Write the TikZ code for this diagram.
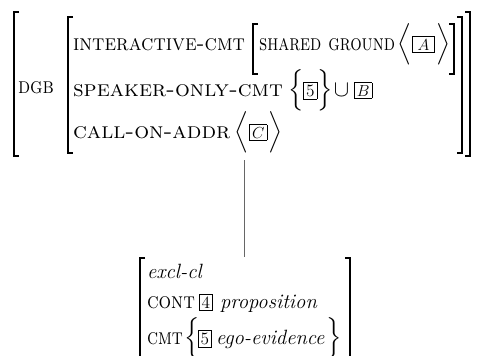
\documentclass[tikz,border=0pt]{standalone}
\usepackage{amsmath}
\usepackage{graphicx}
\newcommand\tg[1]{{\fontsize{13}{15}\selectfont\fboxsep=1.6pt\fboxrule=0.4pt\fbox{#1}}}
% small-caps label set to a given width (height kept)
\newcommand\sck[2]{\resizebox{#1}{\height}{\fontsize{17}{20}\selectfont\textsc{#2}}}
\tikzset{
  txt/.style={inner sep=0pt, outer sep=0pt, anchor=base west, font=\fontsize{16}{19}\selectfont},
  itx/.style={txt, font=\fontsize{15.5}{18}\selectfont\itshape},
  brk/.style={line width=0.8pt},
  conn/.style={line width=0.4pt, draw=black!60}
}
\begin{document}
\begin{tikzpicture}[x=0.75pt,y=-0.75pt]
\useasboundingbox (0,0) rectangle (477,355);
\clip (0,0) rectangle (477,355);
% top AVM text
\node[txt] (dgb) at (18,93) {\sck{27pt}{dgb}};
\node[txt] (ic) at (73,50) {\sck{129pt}{interactive-cmt}};
\node[txt] (sg) at (259,50) {\sck{102pt}{shared ground}};
\node[txt] (sga) at (397,50) {${\Big\langle}\mkern1mu\tg{$\,A\,$}\mkern1mu{\Big\rangle}$};
\node[txt] (soc) at (73,96) {\sck{157.5pt}{speaker-only-cmt}};
\node[txt] (socv) at (288,96) {$\Big\{\tg{5}\Big\}\!\cup\tg{$B$}$};
\node[txt] (coa) at (73,138) {\sck{118pt}{call-on-addr}};
\node[txt] (coav) at (234,138) {${\Big\langle}\mkern1mu\tg{$C$}\mkern1mu{\Big\rangle}$};
% top brackets
\draw[brk] (19,12) -- (14,12) -- (14,156) -- (19,156);
\draw[brk] (73,17) -- (68,17) -- (68,153) -- (73,153);
\draw[brk] (258,24) -- (253,24) -- (253,74) -- (258,74);
\draw[brk] (449,24) -- (454,24) -- (454,74) -- (449,74);
\draw[brk] (457,17) -- (462,17) -- (462,153) -- (457,153);
\draw[brk] (465,12) -- (470,12) -- (470,156) -- (465,156);
% connector
\coordinate (vtop) at (244,160);
\coordinate (vbot) at (244,257);
\draw[conn] (vtop) -- (vbot);
% bottom AVM
\node[itx] (excl) at (147,278) {excl-cl};
\node[txt] (cont) at (147,308) {\sck{36pt}{cont}};
\node[txt] (four) at (199,308) {\tg{4}};
\node[itx] (prop) at (220,308) {proposition};
\node[txt] (cmt) at (147,344) {\sck{27pt}{cmt}};
\node[txt] (lbr) at (184,344) {$\Big\{$};
\node[txt] (five) at (198,344) {\tg{5}};
\node[itx] (ego) at (216,344) {ego-evidence};
\node[txt] (rbr) at (326,344) {$\Big\}$};
\draw[brk] (145,258) -- (140,258) -- (140,380);
\draw[brk] (345,258) -- (350,258) -- (350,380);
\end{tikzpicture}
\end{document}
